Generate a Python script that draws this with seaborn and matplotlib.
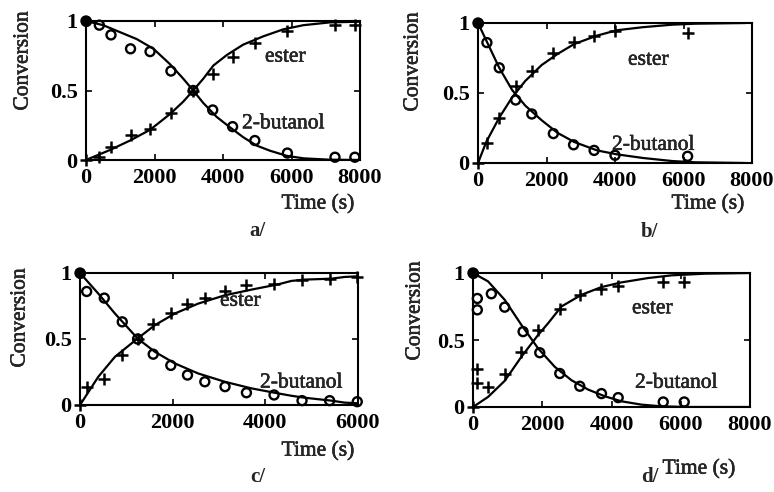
import matplotlib
matplotlib.use("Agg")
import matplotlib.pyplot as plt
import matplotlib.patheffects as pe
import seaborn as sns
import pandas as pd

# ---- measured conversions (points) ----
a_t = [0, 390, 730, 1300, 1870, 2480, 3130, 3700, 4280, 4930, 5880, 7270, 7850]
a_butanol = [1.00, 0.97, 0.90, 0.80, 0.78, 0.64, 0.50, 0.36, 0.24, 0.14, 0.05, 0.02, 0.02]
a_ester = [0.00, 0.02, 0.09, 0.18, 0.22, 0.34, 0.50, 0.62, 0.74, 0.84, 0.93, 0.97, 0.97]

b_t = [0, 260, 620, 1100, 1570, 2200, 2790, 3390, 4000, 6120]
b_butanol = [1.00, 0.86, 0.68, 0.45, 0.35, 0.21, 0.13, 0.09, 0.055, 0.048]
b_ester = [0.00, 0.14, 0.32, 0.55, 0.655, 0.785, 0.865, 0.905, 0.94, 0.93]

c_t = [0, 144, 524, 912, 1243, 1580, 1960, 2320, 2694, 3130, 3592, 4188, 4792, 5388, 5984]
c_butanol = [1.00, 0.86, 0.81, 0.63, 0.50, 0.385, 0.30, 0.227, 0.176, 0.139, 0.093,
             0.076, 0.033, 0.033, 0.025]
c_ester = [0.00, 0.134, 0.194, 0.378, 0.50, 0.617, 0.698, 0.768, 0.814, 0.864, 0.907,
           0.92, 0.945, 0.957, 0.97]

d_butanol_t = [0, 125, 125, 530, 915, 1446, 1928, 2506, 3084, 3711, 4193, 5494, 6100]
d_butanol = [1.00, 0.81, 0.725, 0.845, 0.745, 0.5625, 0.405, 0.25, 0.155, 0.10, 0.07,
             0.0375, 0.0375]
d_ester_t = [0, 125, 125, 434, 915, 1398, 1880, 2506, 3084, 3711, 4193, 5494, 6100]
d_ester = [0.00, 0.28, 0.18, 0.15, 0.245, 0.4125, 0.575, 0.73, 0.8375, 0.88, 0.905,
           0.93, 0.93]

# ---- model curves ----
a_fit_ester_t = [0, 700, 1285, 1870, 2450, 2840, 3130, 3425, 3720, 4110, 4590, 5180,
                 5760, 6350, 7120, 8000]
a_fit_ester = [0.0, 0.072, 0.14, 0.217, 0.33, 0.42, 0.50, 0.585, 0.68, 0.755, 0.83,
               0.89, 0.94, 0.97, 0.99, 0.995]
a_fit_butanol_t = [0, 500, 990, 1480, 1970, 2450, 2840, 3130, 3425, 3815, 4200, 4590,
                   4980, 5370, 5860, 6350, 7120, 8000]
a_fit_butanol = [1.0, 0.97, 0.92, 0.87, 0.80, 0.69, 0.585, 0.50, 0.41, 0.31, 0.236,
                 0.164, 0.104, 0.067, 0.03, 0.012, 0.002, 0.0]

b_fit_t = [0, 240, 620, 1000, 1380, 1860, 2330, 2810, 3476, 4050, 4810, 5670, 6330, 7810]
b_fit_ester = [0.0, 0.15, 0.324, 0.47, 0.586, 0.70, 0.78, 0.85, 0.91, 0.948, 0.97,
               0.988, 0.995, 1.0]
b_fit_butanol = [1.0, 0.876, 0.68, 0.52, 0.41, 0.305, 0.214, 0.15, 0.09, 0.062, 0.036,
                 0.014, 0.005, 0.0]

c_fit_t = [0, 395, 754, 1243, 1616, 2047, 2550, 3125, 3700, 4275, 4562, 4850, 5424,
           5711, 6000]
c_fit_ester = [0.0, 0.214, 0.365, 0.504, 0.605, 0.693, 0.768, 0.831, 0.874, 0.914,
               0.94, 0.95, 0.957, 0.97, 0.975]
c_fit_butanol = [1.0, 0.844, 0.693, 0.504, 0.403, 0.315, 0.239, 0.176, 0.126, 0.088,
                 0.07, 0.055, 0.033, 0.018, 0.013]

d_fit_ester_t = [0, 434, 915, 1398, 1880, 2169, 2554, 3133, 3711, 4289, 5060, 5735,
                 6700, 8000]
d_fit_ester = [0.0, 0.075, 0.195, 0.375, 0.5375, 0.625, 0.75, 0.8375, 0.895, 0.93,
               0.9625, 0.9825, 0.995, 1.0]
d_fit_butanol_t = [0, 434, 915, 1398, 1880, 2361, 2843, 3325, 3807, 4289, 4867, 5446,
                   6217, 8000]
d_fit_butanol = [1.0, 0.9375, 0.80, 0.6125, 0.4375, 0.30, 0.20, 0.13, 0.08, 0.0425,
                 0.0175, 0.005, 0.0, 0.0]

x_ticks_8000 = [0, 2000, 4000, 6000, 8000]
x_ticks_6000 = [0, 2000, 4000, 6000]
y_ticks = [0, 0.5, 1]
y_tick_labels = ["0", "0.5", "1"]
panel_labels = ["a/", "b/", "c/", "d/"]

sns.set_theme(style="ticks")
plt.rcParams["font.family"] = ["Liberation Serif", "DejaVu Serif"]

W, H = 774, 492
fig = plt.figure(figsize=(W / 100, H / 100), dpi=100)
fig.patch.set_facecolor("white")

# slightly heavier strokes for the printed-style lettering
ink = [pe.withStroke(linewidth=0.35, foreground="black")]


def rect(left, top, right, bottom):
    return [left / W, 1 - bottom / H, (right - left) / W, (bottom - top) / H]


panels = [
    dict(box=rect(86, 21, 360, 160), xmax=8000, xticks=x_ticks_8000,
         pts_b=(a_t, a_butanol), pts_e=(a_t, a_ester),
         fit_b=(a_fit_butanol_t, a_fit_butanol), fit_e=(a_fit_ester_t, a_fit_ester),
         ester_txt=(5226, 0.74), but_txt=(4555, 0.26),
         ylab=(23, 61), xlab=(318, 204), tag=(257, 231)),
    dict(box=rect(478, 23, 752, 163), xmax=8000, xticks=x_ticks_8000,
         pts_b=(b_t, b_butanol), pts_e=(b_t, b_ester),
         fit_b=(b_fit_t, b_fit_butanol), fit_e=(b_fit_t, b_fit_ester),
         ester_txt=(4380, 0.734), but_txt=(3912, 0.126),
         ylab=(413, 62), xlab=(708, 204), tag=(649, 232)),
    dict(box=rect(80, 273, 358, 405), xmax=6000, xticks=x_ticks_6000,
         pts_b=(c_t, c_butanol), pts_e=(c_t, c_ester),
         fit_b=(c_fit_t, c_fit_butanol), fit_e=(c_fit_t, c_fit_ester),
         ester_txt=(3022, 0.786), but_txt=(3885, 0.166),
         ylab=(20, 318), xlab=(318, 451), tag=(258, 477)),
    dict(box=rect(473, 273, 750, 407), xmax=8000, xticks=x_ticks_8000,
         pts_b=(d_butanol_t, d_butanol), pts_e=(d_ester_t, d_ester),
         fit_b=(d_fit_butanol_t, d_fit_butanol), fit_e=(d_fit_ester_t, d_fit_ester),
         ester_txt=(4592, 0.733), but_txt=(4679, 0.177),
         ylab=(415, 311), xlab=(699, 469), tag=(650, 477)),
]

for p, tag in zip(panels, panel_labels):
    ax = fig.add_axes(p["box"])
    ax.set_facecolor("white")

    for (tx, ty) in (p["fit_e"], p["fit_b"]):
        sns.lineplot(x=tx, y=ty, ax=ax, color="black", lw=1.6, sort=False,
                     estimator=None, legend=False)

    pts_b = pd.DataFrame({"t": p["pts_b"][0], "y": p["pts_b"][1]})
    pts_e = pd.DataFrame({"t": p["pts_e"][0], "y": p["pts_e"][1]})
    sns.scatterplot(data=pts_b, x="t", y="y", ax=ax, marker="o", s=42,
                    facecolor="none", edgecolor="black", linewidth=1.7,
                    clip_on=False, zorder=3, legend=False)
    sns.scatterplot(data=pts_e, x="t", y="y", ax=ax, marker="+", s=75,
                    color="black", linewidth=1.8, clip_on=False, zorder=3,
                    legend=False)
    # starting composition drawn as a solid dot
    sns.scatterplot(data=pts_b.iloc[:1], x="t", y="y", ax=ax, marker="o", s=55,
                    color="black", edgecolor="black", clip_on=False, zorder=4,
                    legend=False)

    ax.set_xlim(0, p["xmax"])
    ax.set_ylim(0, 1)
    ax.set_xticks(p["xticks"])
    ax.set_xticklabels([str(v) for v in p["xticks"]])
    ax.set_yticks(y_ticks)
    ax.set_yticklabels(y_tick_labels)
    ax.tick_params(direction="in", top=True, right=True, length=4, width=1.2,
                   labelsize=16, pad=6, colors="black")
    for lbl in ax.get_xticklabels() + ax.get_yticklabels():
        lbl.set_fontweight("bold")
    for sp in ax.spines.values():
        sp.set_visible(True)
        sp.set_linewidth(1.5)
        sp.set_color("black")

    ax.text(*p["ester_txt"], "ester", fontsize=15.5, va="center", ha="left",
            path_effects=ink)
    ax.text(*p["but_txt"], "2-butanol", fontsize=15.5, va="center", ha="left",
            path_effects=ink)

    ax.set_xlabel("")
    ax.set_ylabel("")
    fig.text(p["ylab"][0] / W, 1 - p["ylab"][1] / H, "Conversion", rotation=90,
             ha="center", va="center", fontsize=15.5, path_effects=ink)
    fig.text(p["xlab"][0] / W, 1 - p["xlab"][1] / H, "Time (s)",
             ha="center", va="center", fontsize=15.5, path_effects=ink)
    fig.text(p["tag"][0] / W, 1 - p["tag"][1] / H, tag,
             ha="center", va="center", fontsize=15, fontweight="bold")

fig.savefig("out.png", dpi=100, facecolor="white")
